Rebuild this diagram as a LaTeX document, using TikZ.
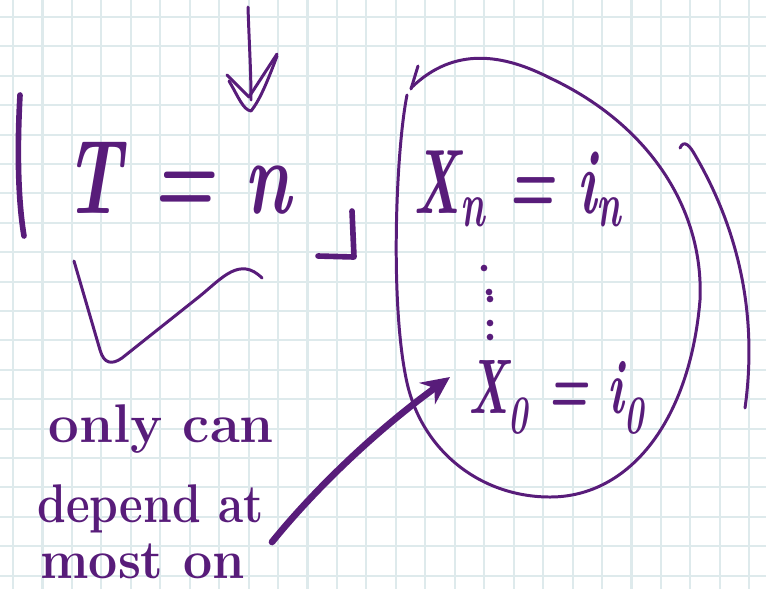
\documentclass[tikz,border=0pt]{standalone}
\usetikzlibrary{arrows.meta}
\definecolor{ink}{RGB}{88,28,122}
\definecolor{paperline}{RGB}{222,234,236}

\begin{document}
\begin{tikzpicture}[
  x=0.02cm, y=-0.02cm,
  gridln/.style = {paperline, line width=1.2pt},
  pen/.style    = {ink, line width=3.2pt, line cap=round, line join=round},
  fine/.style   = {ink, line width=1.7pt, line cap=round, line join=round},
  hand/.style   = {ink, inner sep=0pt, anchor=base west},
  note/.style   = {hand, font=\fontsize{31}{31}\selectfont\bfseries},
]
  \path[use as bounding box, fill=white] (0,0) rectangle (766,589);
  \foreach \i in {0,...,25} \draw[gridln] ({13+29.45*\i},0) -- ({13+29.45*\i},589);
  \foreach \i in {0,...,19} \draw[gridln] (0,{17+29.4*\i}) -- (766,{17+29.4*\i});

  % left side
  \node[hand, font=\fontsize{60}{60}\selectfont\bfseries] (tn) at (64,213) {\scalebox{0.68}[1]{\itshape T = n}};
  \draw[pen] (20,95) .. controls (17,150) and (18,200) .. (24,236);
  \draw[pen] (352,211) -- (354,257) -- (318,256);
  \coordinate (downtop) at (248,7);
  \coordinate (downtip) at (251,100);
  \draw[fine] (downtop) .. controls (249,40) and (251,70) .. (downtip);
  \draw[fine] (227,75) -- (249,97) -- (277,54);
  \draw[fine] (229,81) .. controls (238,96) and (243,110) .. (251,111) .. controls (260,100) and (268,80) .. (277,56);
  \draw[fine] (74,261) -- (100,350) .. controls (104,364) and (112,365) .. (122,358) -- (200,296) .. controls (222,278) and (240,256) .. (262,278);

  \node[note] (l1) at (48,442) {only can};
  \node[note] (l2) at (37,522) {\scalebox{0.845}[1]{depend at}};
  \node[note] (l3) at (40,578) {\scalebox{0.95}[1]{most on}};

  % right side
  \node[hand, font=\fontsize{52}{52}\selectfont\bfseries] (xn) at (413,213) {\scalebox{0.59}[1]{\itshape X\textsubscript{n} = i\textsubscript{n}}};
  \node[hand, font=\fontsize{44}{44}\selectfont\bfseries] (x0) at (468,413) {\scalebox{0.6}[1]{\itshape X\textsubscript{0} = i\textsubscript{0}}};
  \foreach \p in {(484,268),(489,292),(490,299),(490,323),(490,337)} \fill[ink] \p circle[radius=1.9pt];

  \draw[fine] (407,95) .. controls (396,150) and (390,300) .. (406,378)
    .. controls (420,450) and (480,497) .. (550,497)
    .. controls (630,497) and (690,420) .. (700,300)
    .. controls (704,210) and (650,125) .. (550,78)
    .. controls (505,55) and (455,45) .. (411,88);
  \draw[fine] (418,66) -- (411,89);
  \draw[fine] (680,148) .. controls (684,139) and (690,146) .. (695,155) .. controls (730,215) and (760,300) .. (745,408);

  \coordinate (tail) at (272,542);
  \draw[pen, line width=3.8pt, -{Stealth[length=16pt,width=15pt]}] (tail) .. controls (310,495) and (370,435) .. ([shift={(-18,-36)}]x0.base west);
\end{tikzpicture}
\end{document}
